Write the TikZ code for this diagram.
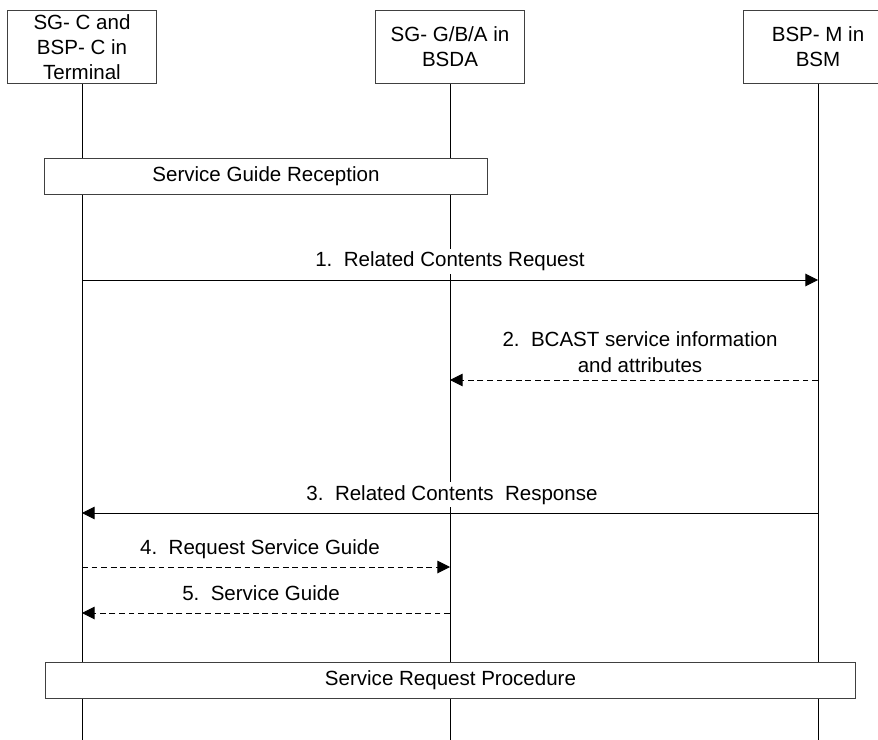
\documentclass[tikz,border=0pt]{standalone}
\usepackage{fontspec}
\setmainfont{Liberation Sans}
\usetikzlibrary{arrows.meta}
\tikzset{
  entity/.style={draw=black!75,fill=white,line width=0.7pt,align=center,
    minimum width=105.3pt,minimum height=52.6pt,inner sep=0pt},
  proc/.style={draw=black!75,fill=white,line width=0.7pt,minimum height=25.6pt,inner sep=0pt},
  lifeline/.style={line width=0.7pt},
  msg/.style={line width=0.7pt,-{Triangle[length=9pt,width=9pt]}},
  reply/.style={msg,dash pattern=on 4.2pt off 2.6pt},
  lbl/.style={fill=white,inner sep=2pt,align=center}
}
\begin{document}
\begin{tikzpicture}[x=0.025cm,y=-0.025cm,font=\fontsize{14.6}{17.8}\selectfont]
\useasboundingbox (0,0) rectangle (878,740);
% participants
\node[entity] (term) at (82,47) {SG- C and\\BSP- C in\\Terminal};
\node[entity] (bsda) at (450,47) {SG- G/B/A in\\BSDA};
\node[entity] (bsm) at (818,47) {BSP- M in\\BSM};
\coordinate (termEnd) at (82,740); \coordinate (bsdaEnd) at (450,740); \coordinate (bsmEnd) at (818,740);
\draw[lifeline] (term.south) -- (termEnd);
\draw[lifeline] (bsda.south) -- (bsdaEnd);
\draw[lifeline] (bsm.south) -- (bsmEnd);
% procedures
\node[proc,minimum width=314.4pt] (sgr) at (266,176) {Service Guide Reception};
\node[proc,minimum width=575.4pt] (srp) at (450.5,680) {Service Request Procedure};
% messages
\coordinate (t1) at (82,280); \coordinate (m1) at (818,280);
\draw[msg] (t1) -- (m1);
\node[lbl,anchor=base] (l1) at (450,267) {1.\ \ Related Contents Request};
\coordinate (m2) at (818,380); \coordinate (d2) at (450,380);
\draw[reply] (m2) -- (d2);
\node[lbl,anchor=base] (l2) at (640,372) {2.\ \ BCAST service information\\and attributes};
\coordinate (m3) at (818,513); \coordinate (t3) at (82,513);
\draw[msg] (m3) -- (t3);
\node[lbl,anchor=base] (l3) at (452,500) {3.\ \ Related Contents\ \ Response};
\coordinate (t4) at (82,567); \coordinate (d4) at (450,567);
\draw[reply] (t4) -- (d4);
\node[lbl,anchor=base] (l4) at (260,554) {4.\ \ Request Service Guide};
\coordinate (d5) at (450,613); \coordinate (t5) at (82,613);
\draw[reply] (d5) -- (t5);
\node[lbl,anchor=base] (l5) at (261,600) {5.\ \ Service Guide};
\end{tikzpicture}
\end{document}
